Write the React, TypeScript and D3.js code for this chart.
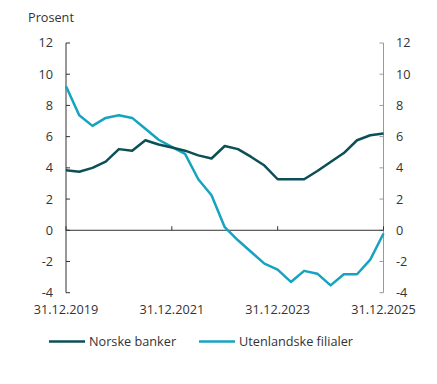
import React from "react";
import * as d3 from "d3";

const quarters = d3.range(25); // quarter index from 31.12.2019 to 31.12.2025
const norskeBanker = [3.85, 3.75, 4.0, 4.4, 5.2, 5.1, 5.77, 5.5, 5.3, 5.1, 4.8, 4.6, 5.4, 5.2, 4.7, 4.15, 3.27, 3.27, 3.27, 3.8, 4.38, 4.95, 5.77, 6.09, 6.2];
const utenlandskeFilialer = [9.23, 7.37, 6.69, 7.2, 7.37, 7.2, 6.5, 5.8, 5.35, 4.9, 3.27, 2.24, 0.2, -0.64, -1.39, -2.14, -2.52, -3.31, -2.6, -2.78, -3.53, -2.82, -2.82, -1.88, -0.21];
const yTicks = [-4, -2, 0, 2, 4, 6, 8, 10, 12];
const xTickIdx = [0, 8, 16, 24];
const xTickLabels = ["31.12.2019", "31.12.2021", "31.12.2023", "31.12.2025"];
const seriesNames = ["Norske banker", "Utenlandske filialer"];
const colors = ["#0b4f57", "#15a3c0"];

export default function App() {
  const W = 437, H = 384;
  const x = d3.scaleLinear().domain([0, 24]).range([66, 383.5]);
  const y = d3.scaleLinear().domain([-4, 12]).range([292.7, 43]);
  const line = d3.line<number>().x((_, i) => x(i)).y((d) => y(d));
  const font = "'Open Sans', sans-serif";
  return (
    <svg width={W} height={H} style={{ position: "absolute", left: 0, top: 0 }}>
      <text x={28} y={22} fontFamily={font} fontSize={12.7} fill="#333">Prosent</text>
      {/* left axis */}
      <line x1={x(0)} x2={x(0)} y1={y(12)} y2={y(-4)} stroke="#333" strokeWidth={1} />
      {yTicks.map((t) => (
        <g key={"l" + t}>
          <line x1={x(0)} x2={x(0) + 4} y1={y(t)} y2={y(t)} stroke="#333" />
          <text x={53} y={y(t)} dy="0.35em" textAnchor="end" fontFamily={font} fontSize={12.7} fill="#333">{t}</text>
        </g>
      ))}
      {/* right axis */}
      <line x1={x(24)} x2={x(24)} y1={y(12)} y2={y(-4)} stroke="#999" strokeWidth={1} />
      {yTicks.map((t) => (
        <g key={"r" + t}>
          <line x1={x(24) - 4} x2={x(24)} y1={y(t)} y2={y(t)} stroke="#999" />
          <text x={396} y={y(t)} dy="0.35em" textAnchor="start" fontFamily={font} fontSize={12.7} fill="#333">{t}</text>
        </g>
      ))}
      {/* zero line */}
      <line x1={x(0)} x2={x(24)} y1={y(0)} y2={y(0)} stroke="#333" strokeWidth={1} />
      {xTickIdx.map((q, i) => (
        <g key={"x" + q}>
          <line x1={x(q)} x2={x(q)} y1={y(0)} y2={y(0) - 4} stroke="#333" />
          <text x={x(q)} y={314} textAnchor="middle" fontFamily={font} fontSize={12.7} fill="#333">{xTickLabels[i]}</text>
        </g>
      ))}
      <path d={line(utenlandskeFilialer) || ""} fill="none" stroke={colors[1]} strokeWidth={2.5} strokeLinejoin="round" />
      <path d={line(norskeBanker) || ""} fill="none" stroke={colors[0]} strokeWidth={2.5} strokeLinejoin="round" />
      {/* legend */}
      {seriesNames.map((n, i) => {
        const lx = i === 0 ? 49 : 199;
        return (
          <g key={n}>
            <line x1={lx} x2={lx + 36} y1={341.5} y2={341.5} stroke={colors[i]} strokeWidth={2.5} />
            <text x={lx + 40} y={341.5} dy="0.35em" fontFamily={font} fontSize={12.7} fill="#333">{n}</text>
          </g>
        );
      })}
    </svg>
  );
}
